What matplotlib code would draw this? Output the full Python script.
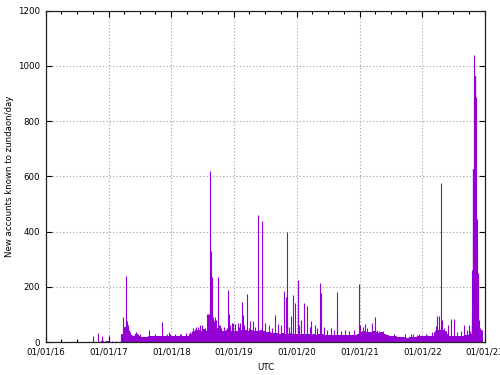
"""Daily new accounts known to zundaon, gnuplot-style impulse chart."""
import matplotlib
matplotlib.use("Agg")
import matplotlib.pyplot as plt
import matplotlib.dates as mdates
import numpy as np
import pandas as pd

# typical daily level per half month (1st-15th, 16th-end)
base_2016 = [0] * 18 + [0, 1, 1, 2, 1, 2]
base_2017 = [1, 1, 1, 0, 0, 30, 55, 35, 25, 22, 28, 20,
             18, 18, 18, 22, 22, 22, 20, 22, 22, 20, 22, 20]
base_2018 = [20, 20, 20, 22, 22, 20, 22, 30, 35, 40, 45, 40,
             48, 40, 40, 80, 60, 50, 45, 40, 40, 45, 40, 38]
base_2019 = [40, 40, 42, 40, 42, 40, 42, 40, 40, 40, 42, 40,
             35, 35, 32, 33, 32, 30, 32, 30, 30, 32, 30, 30]
base_2020 = [30, 28, 30, 28, 28, 26, 28, 26, 28, 28, 26, 26,
             26, 25, 25, 26, 25, 24, 25, 25, 26, 25, 27, 30]
base_2021 = [38, 40, 38, 35, 38, 40, 35, 32, 35, 28, 25, 22,
             20, 20, 18, 18, 18, 16, 16, 18, 18, 18, 20, 20]
base_2022 = [20, 20, 22, 20, 22, 40, 45, 45, 40, 30, 22, 22,
             22, 22, 22, 22, 25, 25, 30, 60, 120, 50, 45, 40]

# single days that stand out from the baseline
spike_dates = [
    "2016-10-02", "2016-10-29", "2016-11-21", "2016-11-25", "2016-12-12",
    "2017-01-20", "2017-02-12",
    "2017-03-25", "2017-04-11", "2017-04-14", "2017-04-18", "2017-04-22",
    "2017-04-27", "2017-05-05", "2017-06-08", "2017-06-10", "2017-06-20",
    "2017-07-02", "2017-08-23", "2017-09-27", "2017-11-10", "2017-12-05",
    "2017-12-20", "2017-12-23",
    "2018-01-20", "2018-02-19", "2018-03-01", "2018-03-26", "2018-04-20",
    "2018-04-30", "2018-05-10", "2018-05-17", "2018-05-25", "2018-06-03",
    "2018-06-14", "2018-06-15", "2018-06-27", "2018-07-01", "2018-07-14",
    "2018-07-28", "2018-07-31", "2018-08-03", "2018-08-06", "2018-08-09",
    "2018-08-12", "2018-08-14", "2018-08-16", "2018-08-18", "2018-08-20",
    "2018-08-22", "2018-08-24", "2018-08-27", "2018-08-30", "2018-09-03",
    "2018-09-08", "2018-09-10", "2018-09-14", "2018-09-16", "2018-09-29",
    "2018-10-03", "2018-10-09", "2018-10-20", "2018-11-02", "2018-11-19",
    "2018-11-30", "2018-12-03", "2018-12-10", "2018-12-18", "2018-12-25",
    "2019-01-09", "2019-01-22", "2019-02-02", "2019-02-05", "2019-02-19",
    "2019-02-21", "2019-03-03", "2019-03-20", "2019-04-01", "2019-04-05",
    "2019-04-19", "2019-05-06", "2019-05-18", "2019-06-13", "2019-07-01",
    "2019-07-26", "2019-08-13", "2019-08-28", "2019-09-17", "2019-10-04",
    "2019-10-19", "2019-10-30", "2019-11-03", "2019-11-06", "2019-11-20",
    "2019-12-01", "2019-12-10", "2019-12-24",
    "2020-01-06", "2020-01-08", "2020-01-17", "2020-01-28", "2020-02-10",
    "2020-02-14", "2020-03-03", "2020-03-21", "2020-03-25", "2020-04-19",
    "2020-04-30", "2020-05-14", "2020-05-24", "2020-06-10", "2020-06-27",
    "2020-07-21", "2020-08-07", "2020-08-23", "2020-08-25", "2020-09-17",
    "2020-10-10", "2020-11-02", "2020-12-01", "2020-12-31",
    "2021-01-04", "2021-01-20", "2021-02-03", "2021-02-15", "2021-03-12",
    "2021-03-29", "2021-04-10", "2021-04-25", "2021-05-15", "2021-07-20",
    "2021-09-20", "2021-10-28", "2021-11-10", "2021-12-02", "2021-12-15",
    "2022-01-20", "2022-01-29", "2022-02-27", "2022-03-10", "2022-03-21",
    "2022-03-26", "2022-04-08", "2022-04-21", "2022-04-25", "2022-05-05",
    "2022-05-20", "2022-05-31", "2022-06-15", "2022-07-06", "2022-07-22",
    "2022-08-14", "2022-08-31", "2022-09-18", "2022-09-30", "2022-10-05",
    "2022-10-15", "2022-10-18", "2022-10-20", "2022-10-22", "2022-10-24",
    "2022-10-25", "2022-10-26", "2022-10-27", "2022-10-28", "2022-10-29",
    "2022-10-30", "2022-10-31", "2022-11-01", "2022-11-02", "2022-11-03",
    "2022-11-04", "2022-11-05", "2022-11-07", "2022-11-09", "2022-11-10",
    "2022-11-11", "2022-11-13", "2022-11-15", "2022-11-17", "2022-11-19",
    "2022-11-21", "2022-11-23", "2022-11-25", "2022-11-28",
]
spike_values = [
    22, 34, 22, 10, 5,
    5, 5,
    92, 239, 98, 75, 60,
    45, 35, 36, 36, 30,
    30, 42, 30, 73, 30,
    38, 28,
    30, 30, 28, 32, 38,
    40, 50, 48, 55, 55,
    45, 60, 60, 55, 50,
    100, 98, 100, 95, 100,
    620, 140, 130, 330, 125,
    115, 236, 110, 92, 85,
    75, 90, 70, 80, 235,
    60, 60, 50, 55, 50,
    188, 100, 60, 70, 68,
    65, 70, 55, 68, 146,
    98, 60, 174, 50, 76,
    75, 55, 460, 440, 70,
    60, 50, 98, 65, 60,
    186, 164, 400, 87, 55,
    95, 170, 140,
    224, 100, 60, 80, 141,
    87, 130, 55, 76, 60,
    50, 212, 177, 55, 45,
    50, 45, 182, 87, 40,
    45, 40, 45, 210,
    60, 55, 65, 50, 68,
    92, 45, 40, 40, 30,
    28, 30, 30, 25, 28,
    28, 25, 35, 35, 58,
    95, 95, 577, 80, 50,
    40, 60, 82, 82, 35,
    40, 60, 45, 60, 40,
    90, 120, 260, 400, 625,
    625, 625, 625, 625, 625,
    1041, 963, 963, 963, 963,
    963, 700, 445, 445, 887,
    445, 445, 330, 250, 250,
    200, 120, 80, 60,
]

PURPLE = "#9400d3"

days = pd.date_range("2016-01-01", "2022-12-12", freq="D")
base = np.array(base_2016 + base_2017 + base_2018 + base_2019
                + base_2020 + base_2021 + base_2022, dtype=float)
half = (days.year - 2016) * 24 + (days.month - 1) * 2 + (days.day > 15)
counts = pd.Series(base[half], index=days)
counts[pd.to_datetime(spike_dates)] = spike_values

fig = plt.figure(figsize=(5, 3.75), dpi=100)
ax = fig.add_axes([0.0914, 0.088, 0.8786, 0.8835])

ax.vlines(counts.index, 0, counts.values, color=PURPLE, linewidth=0.8)

ax.set_xlim(pd.Timestamp("2016-01-01"), pd.Timestamp("2023-01-01"))
ax.set_ylim(0, 1200)
ax.set_yticks(np.arange(0, 1201, 200))
ax.xaxis.set_major_locator(mdates.YearLocator())
ax.xaxis.set_minor_locator(mdates.MonthLocator(bymonth=[4, 7, 10]))
ax.xaxis.set_major_formatter(mdates.DateFormatter("%m/%d/%y"))

ax.grid(True, which="major", color="#a0a0a0", linestyle=(0, (1, 2)),
        linewidth=0.8)
ax.set_axisbelow(True)
ax.tick_params(which="both", direction="in", top=True, right=True,
               labelsize=6.2, colors="black", pad=4)
ax.tick_params(which="major", length=4, width=0.8)
ax.tick_params(which="minor", length=2, width=0.8)
for s in ax.spines.values():
    s.set_linewidth(0.9)
    s.set_color("#222222")

ax.set_xlabel("UTC", fontsize=6.2, labelpad=5)
ax.set_ylabel("New accounts known to zundaon/day", fontsize=6.2, labelpad=3)

fig.savefig("out.png", dpi=100, facecolor="white")
